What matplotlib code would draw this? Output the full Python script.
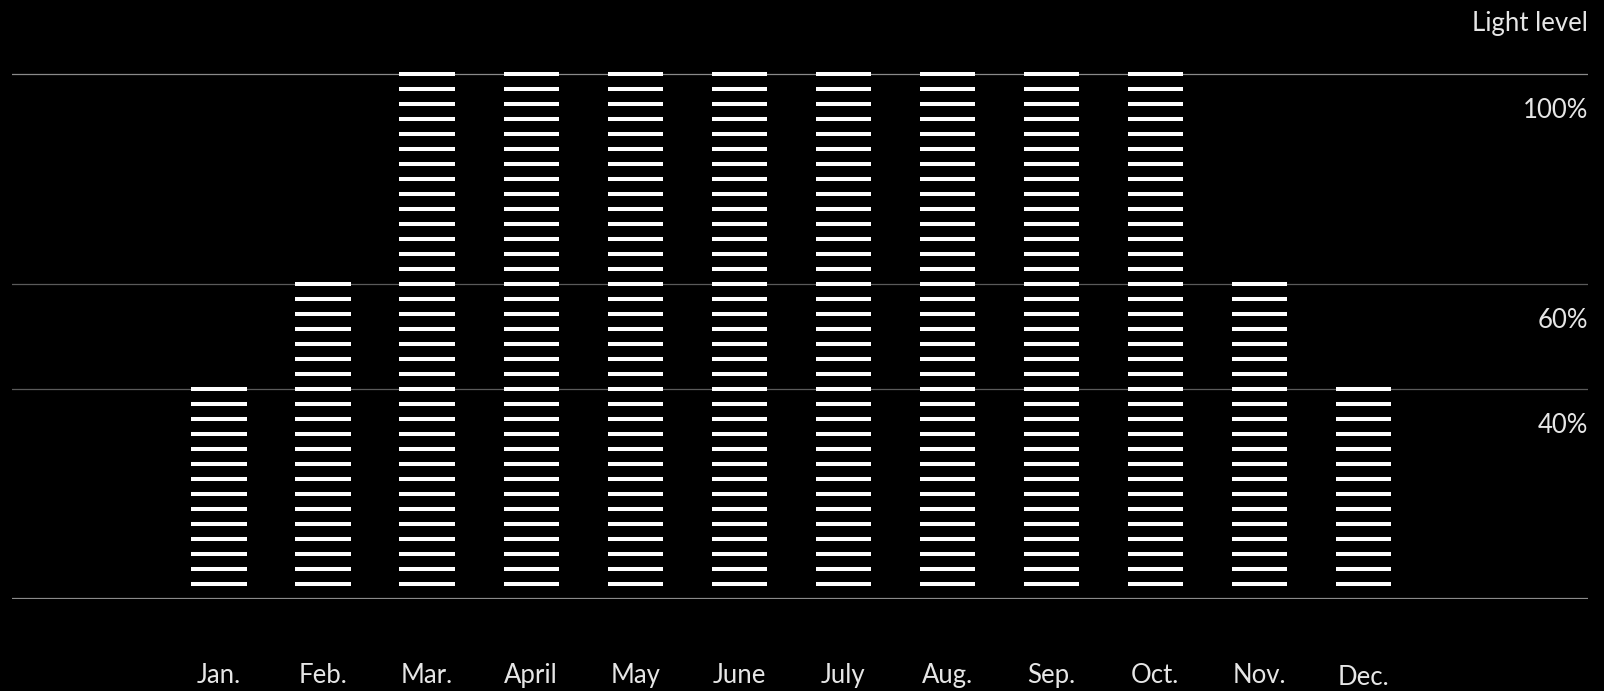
import matplotlib.pyplot as plt
import numpy as np

# Data
months = ['Jan.', 'Feb.', 'Mar.', 'April', 'May', 'June', 'July', 'Aug.', 'Sep.', 'Oct.', 'Nov.', 'Dec.']
light = [40, 60, 100, 100, 100, 100, 100, 100, 100, 100, 60, 40]
levels = [100, 60, 40]
level_labels = ['100%', '60%', '40%']
stripes_full = 35  # stripes in a 100% bar

plt.rcParams['font.family'] = ['Lato', 'DejaVu Sans']

fig = plt.figure(figsize=(16.04, 6.91), dpi=100, facecolor='black')
ax = fig.add_axes([12 / 1604, 92 / 691, 1576 / 1604, 551.25 / 691])
ax.set_facecolor('black')
ax.set_xlim(-1.99, 13.16)
ax.set_ylim(0, 105)
ax.axis('off')

# Grid lines
ax.axhline(0, color='#8a8a8a', lw=1.6)
ax.axhline(100, color='#8a8a8a', lw=0.9)
ax.axhline(60, color='#5a5a5a', lw=0.9)
ax.axhline(40, color='#5a5a5a', lw=0.9)

# Striped bars
step = 100 / stripes_full
width = 0.53
x = np.arange(len(months))
for xi, v in zip(x, light):
	n = int(round(v / step))
	ys = step * np.arange(1, n + 1)
	ax.hlines(ys, xi - width / 2, xi + width / 2, colors='white', lw=2.9, capstyle='butt', zorder=3)

# Month labels
for xi, m in zip(x, months):
	dy = -0.5 if m == 'Dec.' else 0.0
	ax.text(xi, -14.5 + dy, m, color='#e6e6e6', fontsize=18.5, ha='center', va='center')

# Level labels
for lv, lab in zip(levels, level_labels):
	ax.text(13.16, lv - 7.0, lab, color='#e6e6e6', fontsize=18.5, ha='right', va='center')
ax.text(13.16, 109.7, 'Light level', color='#e6e6e6', fontsize=18.5, ha='right', va='center')

fig.savefig('out.png', dpi=100, facecolor='black')
